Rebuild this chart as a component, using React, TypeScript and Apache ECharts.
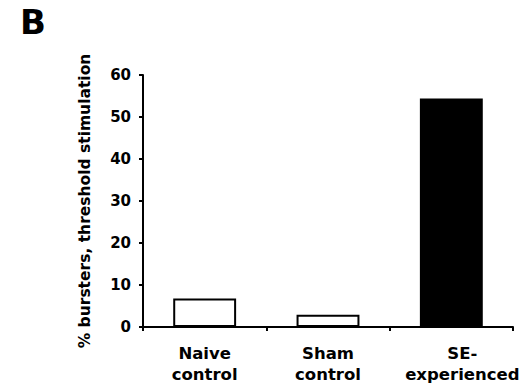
import React, { useEffect, useRef } from "react";
import * as echarts from "echarts";

const categories = ["Naive\ncontrol", "Sham\ncontrol", "SE-\nexperienced"];
const values = [6.8, 2.9, 54.4];
const barColors = ["#ffffff", "#ffffff", "#000000"];
const yTicks = { min: 0, max: 60, interval: 10 };

export default function App() {
  const ref = useRef<HTMLDivElement>(null);
  useEffect(() => {
    const chart = echarts.init(ref.current!, null, { renderer: "svg" });
    const font = "'DejaVu Sans', Arial, sans-serif";
    chart.setOption({
      animation: false,
      backgroundColor: "#ffffff",
      graphic: [
        {
          type: "text",
          left: 20,
          top: 5,
          style: { text: "B", font: `bold 34px ${font}`, fill: "#000" },
        },
      ],
      grid: { left: 143, right: 10, top: 75, bottom: 55 },
      xAxis: {
        type: "category",
        data: categories.map((c, i) =>
          i === 2 ? { value: c, textStyle: { padding: [0, 0, 0, 22] } } : c
        ),
        axisLine: { lineStyle: { color: "#000", width: 2 } },
        axisTick: { show: true, length: 4, lineStyle: { color: "#000", width: 2 } },
        axisLabel: {
          interval: 0,
          color: "#000",
          fontFamily: font,
          fontWeight: "bold",
          fontSize: 16.5,
          lineHeight: 21,
          margin: 16,
        },
      },
      yAxis: {
        type: "value",
        min: yTicks.min,
        max: yTicks.max,
        interval: yTicks.interval,
        name: "% bursters, threshold stimulation",
        nameLocation: "middle",
        nameGap: 50,
        nameTextStyle: { color: "#000", fontFamily: font, fontWeight: "bold", fontSize: 15.5 },
        axisLine: { show: true, lineStyle: { color: "#000", width: 2 } },
        axisTick: { show: true, length: 4, lineStyle: { color: "#000", width: 2 } },
        axisLabel: { color: "#000", fontFamily: font, fontWeight: "bold", fontSize: 15, margin: 12 },
        splitLine: { show: false },
      },
      series: [
        {
          type: "bar",
          barWidth: "51%",
          data: values.map((v, i) => ({
            value: v,
            itemStyle: { color: barColors[i], borderColor: "#000", borderWidth: 2 },
          })),
        },
      ],
    });
    return () => chart.dispose();
  }, []);
  return (
    <div
      ref={ref}
      style={{ position: "absolute", left: 0, top: 0, width: 523, height: 385 }}
    />
  );
}
